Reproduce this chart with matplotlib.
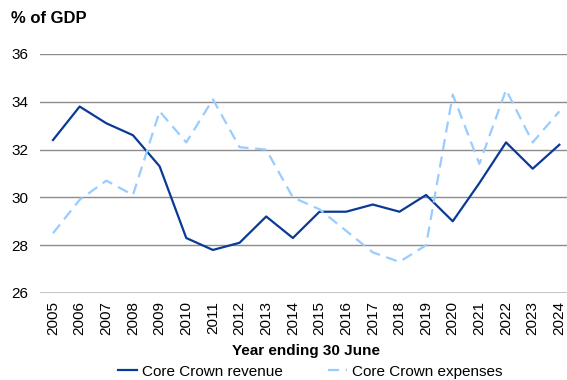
import matplotlib.pyplot as plt

plt.rcParams.update({
    "font.family": ["Liberation Sans", "DejaVu Sans"],
    "font.size": 11,
})

years = [str(y) for y in range(2005, 2025)]
revenue = [32.4, 33.8, 33.1, 32.6, 31.3, 28.3, 27.8, 28.1, 29.2, 28.3,
           29.4, 29.4, 29.7, 29.4, 30.1, 29.0, 30.6, 32.3, 31.2, 32.2]
expenses = [28.5, 29.9, 30.7, 30.1, 33.6, 32.3, 34.1, 32.1, 32.0, 30.0,
            29.5, 28.6, 27.7, 27.3, 28.0, 34.3, 31.4, 34.5, 32.3, 33.6]

fig = plt.figure(figsize=(5.67, 3.8), dpi=100)
ax = fig.add_axes([0.07, 0.229, 0.94, 0.629])

x = range(len(years))
ax.plot(x, revenue, color="#0A3A94", linewidth=1.6, label="Core Crown revenue")
ax.plot(x, expenses, color="#99CCFF", linewidth=1.6, linestyle=(0, (5, 3)),
        label="Core Crown expenses")

ax.set_ylim(26, 36)
ax.set_yticks(range(26, 37, 2))
ax.set_xlim(-0.5, 19.5)
ax.set_xticks(list(x))
ax.set_xticklabels(years, rotation=90)
ax.tick_params(length=0, pad=6)
ax.tick_params(axis="y", pad=8)

# gridlines, lighter and thicker base line at 26
for yv in range(28, 37, 2):
    ax.axhline(yv, color="#8C8C8C", linewidth=1, zorder=0)
ax.axhline(26, color="#BFBFBF", linewidth=2, zorder=0)

for s in ax.spines.values():
    s.set_visible(False)

ax.set_xlabel("Year ending 30 June", fontweight="bold", labelpad=6)
fig.text(0.02, 0.952, "% of GDP", fontweight="bold", fontsize=12, va="center")

fig.legend(loc="center", bbox_to_anchor=(0.547, 0.022), ncol=2,
           frameon=False, handlelength=1.25, columnspacing=3.0,
           handletextpad=0.3, borderaxespad=0, borderpad=0)

fig.savefig("out.png", dpi=100)
